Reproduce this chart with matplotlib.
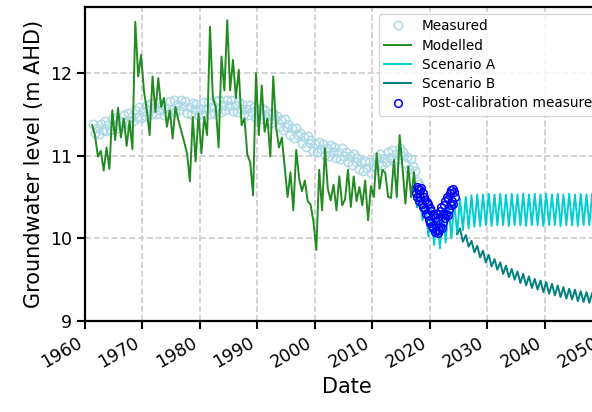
import matplotlib
matplotlib.use("Agg")
import matplotlib.pyplot as plt
import numpy as np

# Observed groundwater levels (m AHD), three readings a year from 1961.4
measured_level = [
    11.38, 11.27, 11.34,  11.26, 11.39, 11.31,  11.42, 11.30, 11.37,  11.31, 11.45, 11.36,
    11.47, 11.34, 11.42,  11.36, 11.49, 11.41,  11.52, 11.39, 11.47,  11.42, 11.55, 11.47,
    11.59, 11.46, 11.54,  11.48, 11.62, 11.55,  11.64, 11.50, 11.58,  11.51, 11.65, 11.55,
    11.62, 11.49, 11.58,  11.51, 11.66, 11.57,  11.67, 11.53, 11.61,  11.55, 11.68, 11.60,
    11.66, 11.52, 11.59,  11.50, 11.64, 11.56,  11.63, 11.49, 11.57,  11.51, 11.65, 11.56,
    11.65, 11.51, 11.59,  11.52, 11.66, 11.58,  11.67, 11.53, 11.61,  11.55, 11.68, 11.60,
    11.68, 11.54, 11.62,  11.53, 11.65, 11.57,  11.63, 11.50, 11.56,  11.49, 11.62, 11.53,
    11.59, 11.46, 11.54,  11.45, 11.58, 11.49,  11.55, 11.42, 11.50,  11.40, 11.52, 11.44,
    11.48, 11.35, 11.43,  11.31, 11.44, 11.35,  11.38, 11.25, 11.33,  11.21, 11.34, 11.25,
    11.28, 11.15, 11.23,  11.11, 11.24, 11.15,  11.19, 11.06, 11.14,  11.04, 11.17, 11.08,
    11.14, 11.01, 11.09,  11.00, 11.13, 11.04,  11.10, 10.97, 11.05,  10.96, 11.09, 11.00,
    11.05, 10.92, 11.00,  10.89, 11.02, 10.93,  10.97, 10.84, 10.92,  10.81, 10.94, 10.85,
    10.92, 10.79, 10.87,  10.85, 10.98, 10.90,  11.02, 10.89, 10.97,  10.92, 11.05, 10.97,
    11.07, 10.94, 11.02,  10.96, 11.09, 11.01,  11.04, 10.91, 10.99,  10.84, 10.96, 10.88,
    10.82, 10.70, 10.66,
]
measured_years = 1961.4 + np.arange(len(measured_level)) / 3

# Calibrated model output, two stress periods a year from 1961.25
modelled_level = [
    11.37, 11.24, 10.99, 11.06, 10.82, 11.10, 10.84, 11.55, 11.19, 11.58,  # 1961-65
    11.22, 11.45, 11.12, 11.42, 11.08, 12.62, 11.96, 12.22, 11.79, 11.55,  # 1966-70
    11.25, 11.96, 11.53, 11.94, 11.59, 11.70, 11.35, 11.55, 11.21, 11.59,  # 1971-75
    11.43, 11.30, 11.17, 11.03, 10.69, 11.47, 10.93, 11.51, 11.03, 11.47,  # 1976-80
    11.25, 12.56, 11.70, 11.59, 11.10, 12.20, 11.79, 12.64, 11.79, 12.16,  # 1981-85
    11.70, 12.04, 11.37, 11.45, 11.01, 10.92, 10.52, 12.00, 11.25, 11.85,  # 1986-90
    11.29, 11.45, 10.99, 11.96, 11.35, 11.10, 11.22, 10.86, 10.50, 10.80,  # 1991-95
    10.34, 11.07, 10.73, 10.57, 10.70, 10.45, 10.41, 10.20, 9.86, 10.83,   # 1996-2000
    10.34, 11.09, 10.60, 10.46, 10.65, 10.34, 10.75, 10.40, 10.47, 10.83,  # 2001-05
    10.38, 10.75, 10.45, 10.62, 10.40, 10.70, 10.22, 10.63, 10.50, 11.03,  # 2006-10
    10.60, 10.83, 10.79, 10.50, 10.49, 10.95, 10.50, 11.25, 10.85, 10.42,  # 2011-15
    10.87, 10.50, 10.80, 10.38,                                            # 2016-17
]
modelled_years = 1961.25 + 0.5 * np.arange(len(modelled_level))

# Scenario A: predictive run from 2017.75
scenario_a_level = [
    10.38, 10.48, 10.22, 10.40, 10.02, 10.35, 9.92, 10.33, 9.88, 10.36,
    9.95, 10.40, 10.00, 10.45, 10.05,
    10.48, 10.10, 10.50, 10.12, 10.52, 10.14, 10.53, 10.15, 10.53, 10.16,
    10.54, 10.15, 10.53, 10.16, 10.54, 10.16, 10.53, 10.15, 10.54, 10.16,
    10.53, 10.16, 10.54, 10.15, 10.53, 10.16, 10.54, 10.16, 10.53, 10.15,
    10.54, 10.16, 10.53, 10.16, 10.54, 10.15, 10.53, 10.16, 10.54, 10.16,
    10.53, 10.15, 10.54, 10.16, 10.53, 10.16, 10.54, 10.15, 10.53, 10.16,
    10.54, 10.16,
]
scenario_a_years = 2017.75 + 0.5 * np.arange(len(scenario_a_level))

# Scenario B: splits from A at 2024.75
scenario_b_level = [
    10.05,
    10.12, 9.96, 10.04, 9.90, 9.97, 9.83, 9.91, 9.77, 9.85, 9.71,
    9.80, 9.66, 9.75, 9.62, 9.71, 9.57, 9.67, 9.53, 9.63, 9.50,
    9.60, 9.46, 9.57, 9.43, 9.54, 9.40, 9.51, 9.38, 9.49, 9.35,
    9.47, 9.33, 9.45, 9.31, 9.43, 9.29, 9.41, 9.27, 9.39, 9.26,
    9.38, 9.24, 9.36, 9.23, 9.35, 9.22, 9.34, 9.21, 9.33, 9.20,
    9.32, 9.19,
]
scenario_b_years = 2024.75 + 0.5 * np.arange(len(scenario_b_level))

# Monitoring data collected after calibration, eight readings a year
postcal_level = [
    10.55, 10.62, 10.50, 10.60, 10.45, 10.58, 10.50, 10.61,
    10.42, 10.55, 10.38, 10.50, 10.35, 10.47, 10.30, 10.44,
    10.28, 10.42, 10.22, 10.37, 10.18, 10.33, 10.15, 10.30,
    10.12, 10.28, 10.08, 10.25, 10.10, 10.30, 10.07, 10.22,
    10.10, 10.33, 10.14, 10.38, 10.12, 10.30, 10.20, 10.40,
    10.25, 10.45, 10.30, 10.50, 10.28, 10.48, 10.35, 10.55,
    10.40, 10.58, 10.45, 10.60, 10.42, 10.56, 10.50,
]
postcal_years = 2017.6 + 0.125 * np.arange(len(postcal_level))

year_ticks = list(range(1960, 2051, 10))
level_ticks = [9, 10, 11, 12]

fig = plt.figure(figsize=(5.92, 4.12), dpi=100)
ax = fig.add_axes([85 / 592, 91 / 412, 523 / 592, 314 / 412])

ax.plot(measured_years, measured_level, "o", mfc="none", mec="lightblue",
        ms=6, mew=1.1, label="Measured")
ax.plot(modelled_years, modelled_level, color="forestgreen", lw=1.4,
        label="Modelled")
ax.plot(scenario_a_years, scenario_a_level, color="darkturquoise", lw=1.4,
        label="Scenario A")
ax.plot(scenario_b_years, scenario_b_level, color="teal", lw=1.4,
        label="Scenario B")
ax.plot(postcal_years, postcal_level, "o", mfc="none", mec="blue",
        ms=5.5, mew=1.1, label="Post-calibration measured")

ax.set_xlim(1960, 2051)
ax.set_ylim(9, 12.8)
ax.set_xticks(year_ticks)
ax.set_xticklabels([str(y) for y in year_ticks], rotation=30, ha="right")
ax.set_yticks(level_ticks)
ax.tick_params(labelsize=12.5, length=6, width=1.5)
for spine in ax.spines.values():
    spine.set_linewidth(1.6)

ax.grid(True, linestyle="--", color="#cccccc", linewidth=1.2)
ax.set_axisbelow(True)
ax.set_xlabel("Date", fontsize=15)
ax.set_ylabel("Groundwater level (m AHD)", fontsize=15)
ax.legend(loc="upper right", bbox_to_anchor=(1.01, 1.0), fontsize=9.8,
          labelspacing=0.39)

fig.savefig("out.png", dpi=100)
